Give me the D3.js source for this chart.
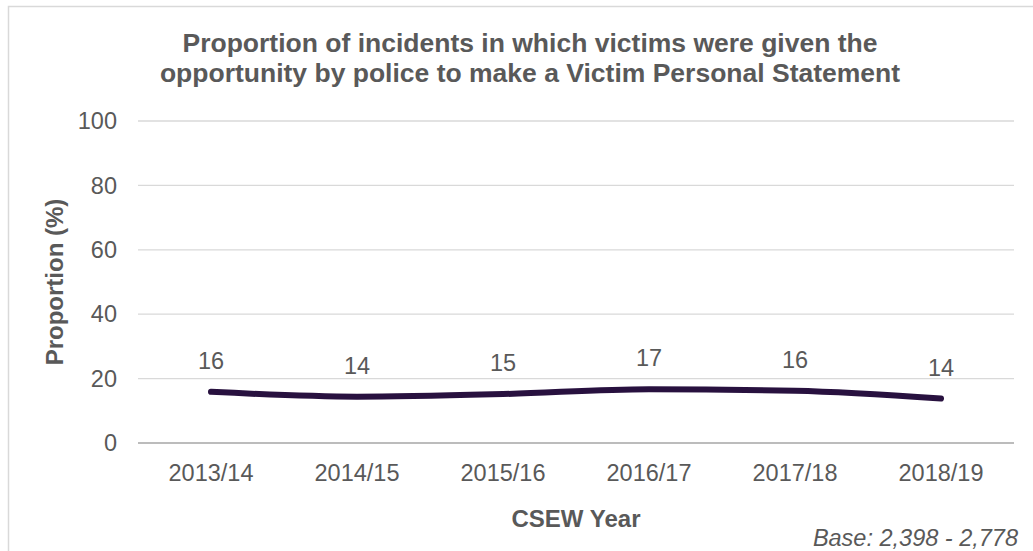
<!DOCTYPE html>
<html>
<head>
<meta charset="utf-8">
<script src="https://d3js.org/d3.v7.min.js"></script>
<style>
body { margin: 0; background: #fff; }
svg { font-family: "Liberation Sans", Arial, sans-serif; }
</style>
</head>
<body>
<script>
// chart data
var years = ["2013/14", "2014/15", "2015/16", "2016/17", "2017/18", "2018/19"];
var proportion = [15.9, 14.4, 15.2, 16.7, 16.2, 13.8];
var labels = ["16", "14", "15", "17", "16", "14"];
var yTicks = [0, 20, 40, 60, 80, 100];

var W = 1033, H = 551;
var margin = { top: 121, right: 19, bottom: 108, left: 138 };
var width = W - margin.left - margin.right,
    height = H - margin.top - margin.bottom;

var svg = d3.select("body").append("svg")
    .attr("width", W).attr("height", H);

// outer frame
svg.append("rect")
    .attr("x", 8.5).attr("y", 6.5)
    .attr("width", W + 20).attr("height", H + 20)
    .attr("fill", "none").attr("stroke", "#d9d9d9").attr("stroke-width", 1.5);

var g = svg.append("g")
    .attr("transform", "translate(" + margin.left + "," + margin.top + ")");

var x = d3.scaleBand().domain(years).range([0, width]);
var y = d3.scaleLinear().domain([0, 100]).range([height, 0]);

// gridlines
g.selectAll(".grid").data(yTicks).enter().append("line")
    .attr("x1", 0).attr("x2", width)
    .attr("y1", function(d) { return y(d); })
    .attr("y2", function(d) { return y(d); })
    .attr("stroke", function(d) { return d === 0 ? "#a6a6a6" : "#d9d9d9"; })
    .attr("stroke-width", 1.3);

// y tick labels
g.selectAll(".ytick").data(yTicks).enter().append("text")
    .attr("x", -21).attr("y", function(d) { return y(d); })
    .attr("dy", "0.35em").attr("text-anchor", "end")
    .attr("fill", "#595959").attr("font-size", 23.5)
    .text(function(d) { return d; });

// x tick labels
g.selectAll(".xtick").data(years).enter().append("text")
    .attr("x", function(d) { return x(d) + x.bandwidth() / 2; })
    .attr("y", height + 38)
    .attr("text-anchor", "middle")
    .attr("fill", "#595959").attr("font-size", 23.5)
    .text(function(d) { return d; });

// line
var line = d3.line()
    .x(function(d, i) { return x(years[i]) + x.bandwidth() / 2; })
    .y(function(d) { return y(d); })
    .curve(d3.curveMonotoneX);

g.append("path").datum(proportion)
    .attr("d", line)
    .attr("fill", "none")
    .attr("stroke", "#28113f")
    .attr("stroke-width", 6)
    .attr("stroke-linecap", "round");

// data labels
g.selectAll(".dlabel").data(proportion).enter().append("text")
    .attr("x", function(d, i) { return x(years[i]) + x.bandwidth() / 2; })
    .attr("y", function(d) { return y(d) - 23; })
    .attr("text-anchor", "middle")
    .attr("fill", "#595959").attr("font-size", 23.5)
    .text(function(d, i) { return labels[i]; });

// title
var title = svg.append("text")
    .attr("text-anchor", "middle")
    .attr("fill", "#595959").attr("font-size", 26.5).attr("font-weight", "bold");
title.append("tspan").attr("x", 530).attr("y", 52)
    .text("Proportion of incidents in which victims were given the");
title.append("tspan").attr("x", 530).attr("y", 82)
    .text("opportunity by police to make a Victim Personal Statement");

// axis titles
svg.append("text")
    .attr("transform", "translate(63," + (margin.top + height / 2) + ") rotate(-90)")
    .attr("text-anchor", "middle")
    .attr("fill", "#595959").attr("font-size", 24).attr("font-weight", "bold")
    .text("Proportion (%)");

svg.append("text")
    .attr("x", margin.left + width / 2).attr("y", 527)
    .attr("text-anchor", "middle")
    .attr("fill", "#595959").attr("font-size", 24).attr("font-weight", "bold")
    .text("CSEW Year");

svg.append("text")
    .attr("x", 1018).attr("y", 546)
    .attr("text-anchor", "end")
    .attr("fill", "#595959").attr("font-size", 23.5).attr("font-style", "italic")
    .text("Base: 2,398 - 2,778");
</script>
</body>
</html>
